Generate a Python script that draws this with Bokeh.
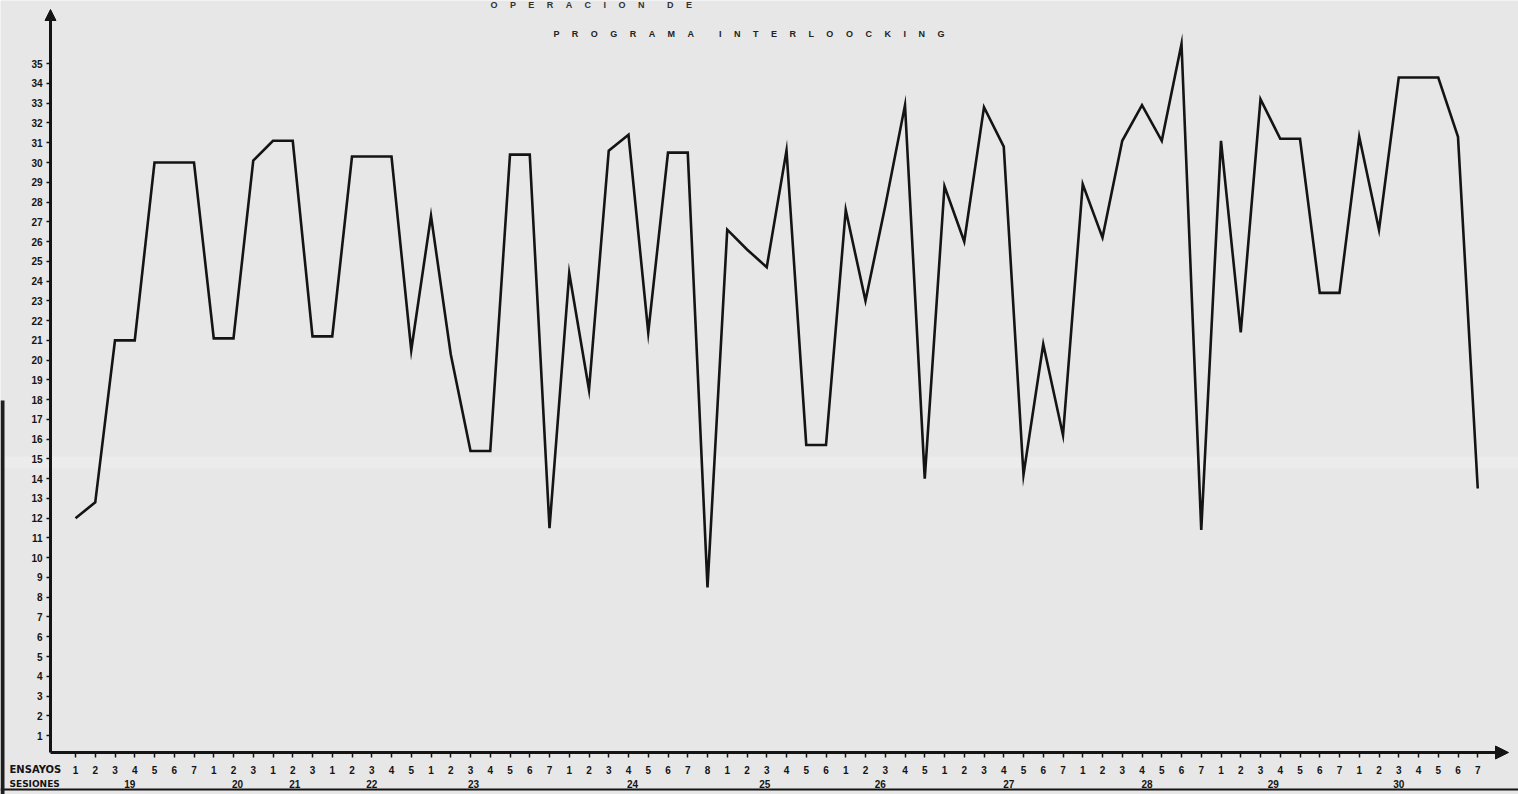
from bokeh.plotting import figure
from bokeh.models import (Range1d, LinearAxis, FixedTicker, Label, Arrow, NormalHead,
                          BoxAnnotation)
from bokeh.embed import file_html
from bokeh.resources import INLINE

# ---------------- data ----------------
sesiones = [19, 20, 21, 22, 23, 24, 25, 26, 27, 28, 29, 30]
s19 = [12.0, 12.8, 21.0, 21.0, 30.0, 30.0, 30.0]
s20 = [21.1, 21.1, 30.1]
s21 = [31.1, 31.1, 21.2]
s22 = [21.2, 30.3, 30.3, 30.3, 20.5]
s23 = [27.3, 20.3, 15.4, 15.4, 30.4, 30.4, 11.5]
s24 = [24.4, 18.5, 30.6, 31.4, 21.4, 30.5, 30.5, 8.5]
s25 = [26.6, 25.6, 24.7, 30.6, 15.7, 15.7]
s26 = [27.6, 23.0, 27.8, 32.9, 14.0]
s27 = [28.8, 26.0, 32.8, 30.8, 14.2, 20.8, 16.2]
s28 = [28.9, 26.2, 31.1, 32.9, 31.1, 36.0, 11.4]
s29 = [31.1, 21.4, 33.2, 31.2, 31.2, 23.4, 23.4]
s30 = [31.3, 26.6, 34.3, 34.3, 34.3, 31.3, 13.5]
y_ticks = list(range(1, 36))
titulo_words = ["OPERACION", "DE"]
subtitulo_words = ["PROGRAMA", "INTERLOOCKING"]

series = [s19, s20, s21, s22, s23, s24, s25, s26, s27, s28, s29, s30]
scores = [v for s in series for v in s]
ensayos = [i + 1 for s in series for i in range(len(s))]
x = list(range(1, len(scores) + 1))

# where each session number sits under its trials (trial position within session)
session_label_trial = [3.75, 2.2, 2.1, 3.0, 3.15, 4.2, 2.9, 2.75, 4.25, 4.25, 3.65, 3.0]
session_pos = []
start = 1
for s, off in zip(series, session_label_trial):
    session_pos.append(round(start + off - 1, 2))
    start += len(s)

# ---------------- styling / layout ----------------
BG = "#e7e7e7"
INK = "#141414"
FONT = "Liberation Sans"
NB = "\u00a0"
W, H = 1518, 794
PX_X = 19.75          # pixels per trial
PX_Y = 19.76          # pixels per score unit
X0_PX, Y0_PX = 75.0, 754.8   # pixel of trial 1 / of score 0


def dx(px):
    return 1 + (px - X0_PX) / PX_X


def dy(py):
    return (Y0_PX - py) / PX_Y


def spaced(words, gap_letters, gap_words):
    sep = " " + NB * gap_letters
    return (NB * gap_words).join(sep.join(w) for w in words)


AX_X = dx(50)     # y axis position
AX_Y = dy(752)    # x axis position
TOP = dy(12)

p = figure(width=W, height=H,
           x_range=Range1d(dx(0), dx(W)), y_range=Range1d(dy(H), dy(0)),
           x_axis_type=None, y_axis_type=None,
           output_backend="svg", toolbar_location=None,
           min_border_left=0, min_border_right=0, min_border_top=0, min_border_bottom=0,
           background_fill_color=BG, border_fill_color=BG, outline_line_color=None)

# faint scanner streak
p.add_layout(BoxAnnotation(bottom=dy(468), top=dy(456), fill_color="#f1f1f1", fill_alpha=0.45,
                           line_color=None, level="underlay"))

lbl = dict(major_label_text_font=FONT, major_label_text_font_size="10px",
           major_label_text_font_style="bold", major_label_text_color=INK,
           minor_tick_out=0, minor_tick_in=0)

yaxis = LinearAxis(ticker=FixedTicker(ticks=y_ticks), fixed_location=AX_X, bounds=(AX_Y, TOP),
                   axis_line_width=3, axis_line_color=INK,
                   major_tick_out=4, major_tick_in=0, major_tick_line_width=1.5,
                   major_tick_line_color=INK, major_label_standoff=4, **lbl)
p.add_layout(yaxis, "left")

xaxis = LinearAxis(ticker=FixedTicker(ticks=x), fixed_location=AX_Y, bounds=(AX_X, dx(1500)),
                   major_label_overrides={xi: str(e) for xi, e in zip(x, ensayos)},
                   axis_line_width=3, axis_line_color=INK,
                   major_tick_out=5, major_tick_in=0, major_tick_line_width=1.5,
                   major_tick_line_color=INK, major_label_standoff=8, **lbl)
p.add_layout(xaxis, "below")

saxis = LinearAxis(ticker=FixedTicker(ticks=session_pos), fixed_location=AX_Y,
                   major_label_overrides={sp: str(s) for sp, s in zip(session_pos, sesiones)},
                   axis_line_color=None, major_tick_line_color=None,
                   major_tick_out=0, major_tick_in=0, major_label_standoff=27, **lbl)
p.add_layout(saxis, "below")

# lower rule of the label table and the paper edge on the left
baxis = LinearAxis(ticker=FixedTicker(ticks=[]), fixed_location=dy(789),
                   axis_line_width=2, axis_line_color=INK,
                   major_tick_out=0, major_tick_in=0, minor_tick_out=0, minor_tick_in=0,
                   major_label_text_font_size="1px")
p.add_layout(baxis, "below")
eaxis = LinearAxis(ticker=FixedTicker(ticks=[]), fixed_location=dx(2), bounds=(dy(H), dy(400)),
                   axis_line_width=4, axis_line_color="#1e1e1e",
                   major_tick_out=0, major_tick_in=0, minor_tick_out=0, minor_tick_in=0,
                   major_label_text_font_size="1px")
p.add_layout(eaxis, "left")

p.line(x, scores, line_width=2.6, line_color=INK, line_join="miter")

# axis arrows
p.add_layout(Arrow(end=NormalHead(size=11, fill_color=INK, line_color=INK),
                   x_start=AX_X, y_start=dy(26), x_end=AX_X, y_end=dy(9),
                   line_width=3, line_color=INK))
p.add_layout(Arrow(end=NormalHead(size=13, fill_color=INK, line_color=INK),
                   x_start=dx(1490), y_start=AX_Y, x_end=dx(1508), y_end=AX_Y,
                   line_width=3, line_color=INK))

common = dict(text_font_style="bold", text_baseline="middle")
p.add_layout(Label(x=dx(9), y=dy(769), text="ENSAYOS", text_font="DejaVu Sans",
                   text_font_size="10px", text_color=INK, **common))
p.add_layout(Label(x=dx(9), y=dy(783), text="SESIONES", text_font="DejaVu Sans",
                   text_font_size="9px", text_color=INK, **common))
p.add_layout(Label(x=dx(490), y=dy(4), text=spaced(titulo_words, 4, 9), text_font=FONT,
                   text_font_size="9px", text_color="#333333", **common))
p.add_layout(Label(x=dx(553), y=dy(33), text=spaced(subtitulo_words, 4, 10), text_font=FONT,
                   text_font_size="9px", text_color="#222222", **common))

open("out.html", "w").write(file_html(p, INLINE))
